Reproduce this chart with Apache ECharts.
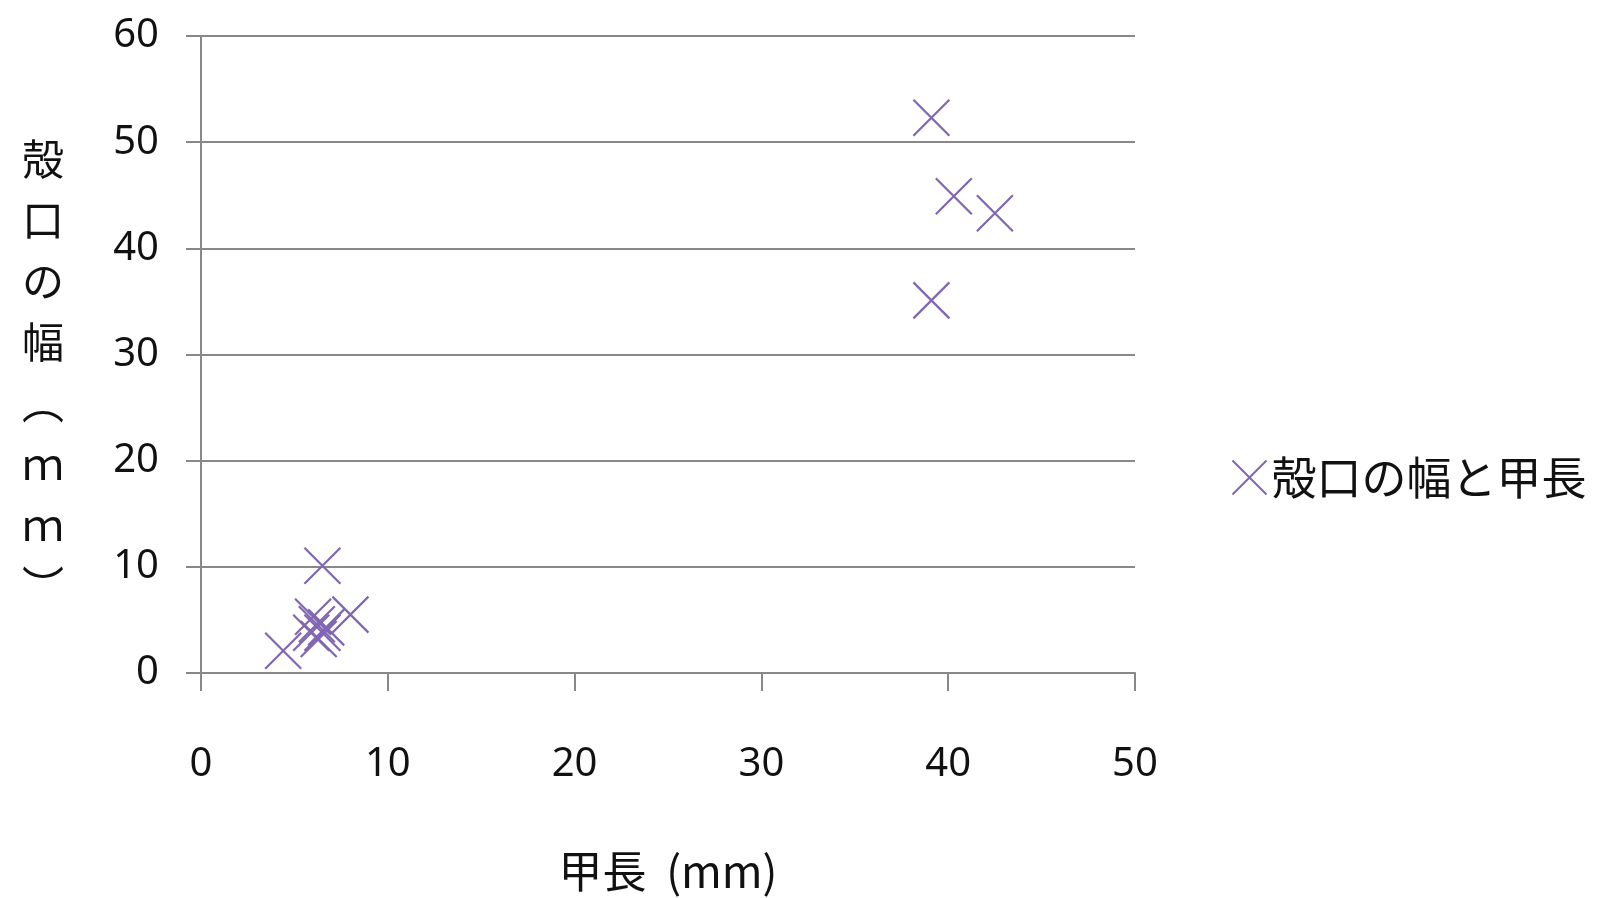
<!DOCTYPE html>
<html><head><meta charset="utf-8">
<script src="https://cdn.jsdelivr.net/npm/echarts@6/dist/echarts.min.js"></script>
<style>html,body{margin:0;padding:0;background:#fff}#c{width:1597px;height:898px}</style>
</head><body><div id="c"></div>
<script>
const seriesName = '殻口の幅と甲長';
const xTitle = '甲長  (mm)';
const yTitleChars = ['殻', '口', 'の', '幅', '︵', 'ｍ', 'ｍ', '︶'];
const carapaceLength = [39.1, 40.3, 42.5, 39.1, 6.5, 4.4, 8.0, 6.0, 5.9, 6.3, 6.5, 6.7, 6.2];
const apertureWidth  = [52.3, 44.9, 43.3, 35.1, 10.1, 2.1, 5.5, 5.3, 3.8, 3.2, 3.8, 4.3, 4.6];
const xTicks = [0, 10, 20, 30, 40, 50];
const yTicks = [0, 10, 20, 30, 40, 50, 60];

const points = carapaceLength.map((x, i) => [x, apertureWidth[i]]);
const yTitle = '{s| }\n' + yTitleChars.join('\n');
const purple = '#8066b3';
const xSym = 'path://M0,0L10,10M10,0L0,10';
const chart = echarts.init(document.getElementById('c'));
chart.setOption({
  animation: false,
  backgroundColor: '#fff',
  grid: { left: 201, right: 462, top: 36, bottom: 217, containLabel: false },
  legend: {
    left: 1225, top: 450, itemWidth: 34, itemHeight: 34, itemGap: 4,
    textStyle: { fontFamily: 'Noto Sans CJK JP', fontSize: 45, color: '#111' },
    data: [{ name: seriesName, icon: xSym,
      itemStyle: { color: 'none', borderColor: purple, borderWidth: 2 } }]
  },
  xAxis: {
    type: 'value', min: xTicks[0], max: xTicks[xTicks.length - 1], interval: 10,
    name: xTitle, nameLocation: 'middle', nameGap: 176,
    nameTextStyle: { fontFamily: 'Noto Sans CJK JP', fontSize: 44, color: '#111', fontWeight: 'normal' },
    axisLine: { lineStyle: { color: '#888', width: 2 } },
    axisTick: { show: true, length: 18, lineStyle: { color: '#888', width: 2 } },
    axisLabel: { margin: 72, fontFamily: 'Noto Sans', fontSize: 40, color: '#111' },
    splitLine: { show: false }
  },
  yAxis: {
    type: 'value', min: yTicks[0], max: yTicks[yTicks.length - 1], interval: 10,
    name: yTitle, nameLocation: 'middle', nameGap: 158, nameRotate: 0,
    nameTextStyle: { fontFamily: 'Noto Sans CJK JP', fontSize: 42, color: '#111', fontWeight: 'normal', lineHeight: 61, align: 'center',
      rich: { s: { fontSize: 10, lineHeight: 36 } } },
    axisLine: { show: true, lineStyle: { color: '#888', width: 2 } },
    axisTick: { show: true, length: 15, lineStyle: { color: '#888', width: 2 } },
    axisLabel: { margin: 42, fontFamily: 'Noto Sans', fontSize: 40, color: '#111' },
    splitLine: { lineStyle: { color: '#888', width: 2 } }
  },
  series: [{
    name: seriesName, type: 'scatter', data: points,
    symbol: xSym, symbolSize: 36,
    itemStyle: { color: 'none', borderColor: purple, borderWidth: 2.2, opacity: 1 }
  }]
});
</script></body></html>
